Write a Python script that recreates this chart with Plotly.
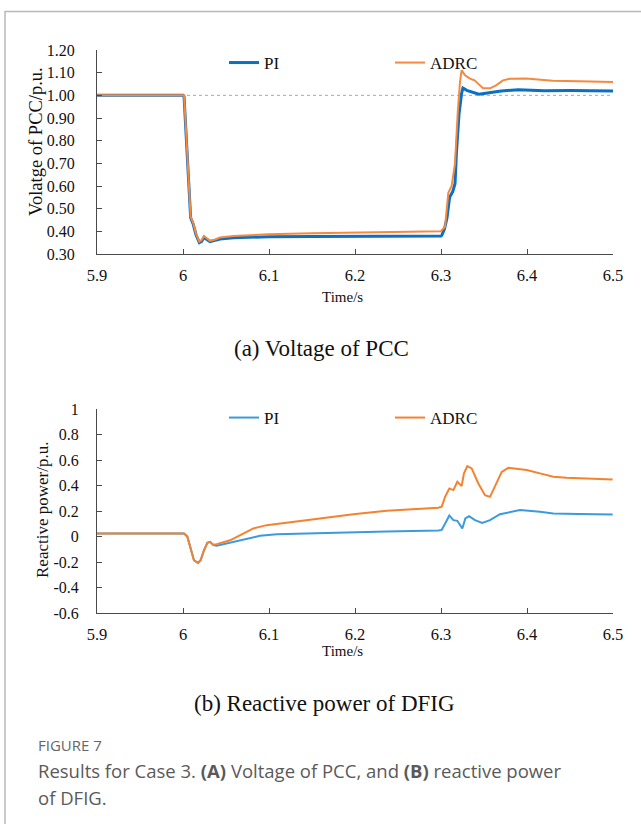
import plotly.graph_objects as go

# ---------------- data: (a) voltage of PCC ----------------
v_pi_t = [5.9, 6.0, 6.0012, 6.0035, 6.0062, 6.0089, 6.012, 6.0151, 6.019, 6.0217, 6.0244, 6.0275,
          6.0314, 6.0372, 6.043, 6.0585, 6.08, 6.1, 6.15, 6.2, 6.25, 6.3, 6.301, 6.304, 6.307,
          6.310, 6.3136, 6.3163, 6.318, 6.321, 6.324, 6.3255, 6.33, 6.337, 6.344, 6.354, 6.37,
          6.39, 6.40, 6.42, 6.45, 6.5]
v_pi = [1.0, 1.0, 0.995, 0.84, 0.62, 0.46, 0.43, 0.385, 0.35, 0.356, 0.373, 0.364,
        0.355, 0.36, 0.366, 0.372, 0.375, 0.376, 0.377, 0.378, 0.378, 0.379, 0.383, 0.41, 0.46,
        0.55, 0.575, 0.61, 0.75, 0.92, 1.01, 1.032, 1.022, 1.015, 1.005, 1.010, 1.019,
        1.025, 1.024, 1.020, 1.021, 1.019]

v_adrc_t = [5.9, 6.0, 6.0012, 6.0035, 6.0062, 6.0089, 6.012, 6.0151, 6.019, 6.0217, 6.0244, 6.0275,
            6.0314, 6.0372, 6.043, 6.0585, 6.0818, 6.0992, 6.15, 6.2, 6.25, 6.2996, 6.3047, 6.3085,
            6.3124, 6.3163, 6.3194, 6.3221, 6.324, 6.328, 6.3337, 6.339, 6.345, 6.349, 6.357,
            6.364, 6.372, 6.380, 6.399, 6.415, 6.43, 6.46, 6.5]
v_adrc = [1.0, 1.0, 1.0, 0.846, 0.626, 0.464, 0.435, 0.39, 0.354, 0.361, 0.379, 0.369,
          0.358, 0.364, 0.373, 0.379, 0.385, 0.387, 0.391, 0.395, 0.398, 0.40, 0.42, 0.57,
          0.60, 0.70, 0.92, 1.06, 1.11, 1.088, 1.074, 1.066, 1.045, 1.031, 1.031,
          1.044, 1.066, 1.073, 1.074, 1.069, 1.064, 1.062, 1.059]

# ---------------- data: (b) reactive power of DFIG ----------------
q_pi_t = [5.9, 6.0, 6.0012, 6.005, 6.009, 6.0127, 6.0174, 6.0205, 6.0244, 6.0283, 6.0314, 6.0353,
          6.0392, 6.0547, 6.070, 6.0895, 6.109, 6.1593, 6.198, 6.2368, 6.2969, 6.3008, 6.3047,
          6.3097, 6.3144, 6.319, 6.3248, 6.3283, 6.3326, 6.3395, 6.348, 6.357, 6.3686, 6.3919,
          6.4151, 6.4306, 6.46, 6.4996]
q_pi = [0.023, 0.023, 0.024, 0.0, -0.108, -0.186, -0.207, -0.186, -0.108, -0.05, -0.042, -0.068,
        -0.072, -0.05, -0.024, 0.005, 0.018, 0.028, 0.035, 0.040, 0.048, 0.052, 0.10,
        0.165, 0.128, 0.123, 0.063, 0.141, 0.159, 0.128, 0.107, 0.128, 0.175, 0.207,
        0.194, 0.181, 0.176, 0.173]

q_adrc_t = [5.9, 6.0, 6.0012, 6.005, 6.009, 6.0127, 6.0174, 6.0205, 6.0244, 6.0283, 6.0314, 6.0353,
            6.0392, 6.0547, 6.070, 6.0818, 6.0973, 6.1206, 6.1593, 6.198, 6.2368, 6.2969, 6.3008,
            6.3047, 6.3097, 6.3144, 6.319, 6.324, 6.3267, 6.3306, 6.3357, 6.3434, 6.3512, 6.357,
            6.3628, 6.3706, 6.3783, 6.3996, 6.4151, 6.4306, 6.446, 6.4996]
q_adrc = [0.023, 0.023, 0.024, 0.0, -0.108, -0.186, -0.207, -0.186, -0.108, -0.05, -0.042, -0.065,
          -0.06, -0.03, 0.023, 0.063, 0.089, 0.107, 0.141, 0.175, 0.201, 0.225, 0.233,
          0.311, 0.377, 0.364, 0.429, 0.395, 0.495, 0.552, 0.534, 0.416, 0.324, 0.311,
          0.39, 0.507, 0.539, 0.521, 0.495, 0.468, 0.46, 0.448]

x_ticks = [5.9, 6.0, 6.1, 6.2, 6.3, 6.4, 6.5]
x_tick_labels = ["5.9", "6", "6.1", "6.2", "6.3", "6.4", "6.5"]
y1_ticks = [0.3, 0.4, 0.5, 0.6, 0.7, 0.8, 0.9, 1.0, 1.1, 1.2]
y1_tick_labels = ["0.30", "0.40", "0.50", "0.60", "0.70", "0.80", "0.90", "1.00", "1.10", "1.20"]
y2_ticks = [-0.6, -0.4, -0.2, 0, 0.2, 0.4, 0.6, 0.8, 1.0]
y2_tick_labels = ["-0.6", "-0.4", "-0.2", "0", "0.2", "0.4", "0.6", "0.8", "1"]

W, H = 641, 824
SERIF = "Liberation Serif"
SANS = "Open Sans"
AX = "#4a4a4a"
TXT = "#111111"

def px_x(p):
    return p / W

def px_y(p):
    return 1 - p / H

fig = go.Figure()
fig.add_trace(go.Scatter(x=v_pi_t, y=v_pi, mode="lines", name="PI",
                         line=dict(color="#0A70C4", width=3), xaxis="x", yaxis="y", legend="legend"))
fig.add_trace(go.Scatter(x=v_adrc_t, y=v_adrc, mode="lines", name="ADRC",
                         line=dict(color="#F5893E", width=2), xaxis="x", yaxis="y", legend="legend2"))
fig.add_trace(go.Scatter(x=q_pi_t, y=q_pi, mode="lines", name="PI",
                         line=dict(color="#3A9BDC", width=2), xaxis="x2", yaxis="y2", legend="legend3"))
fig.add_trace(go.Scatter(x=q_adrc_t, y=q_adrc, mode="lines", name="ADRC",
                         line=dict(color="#F4822F", width=2), xaxis="x2", yaxis="y2", legend="legend4"))

xdom = [px_x(97), px_x(613)]
common_x = dict(range=[5.9, 6.5], tickvals=x_ticks, ticktext=x_tick_labels, showline=True,
                linecolor=AX, linewidth=1, ticks="inside", ticklen=5, tickcolor=AX,
                showgrid=False, zeroline=False, tickfont=dict(family=SERIF, size=16.5, color=TXT),
                ticklabelstandoff=6, domain=xdom, automargin=False)
common_y = dict(showline=True, linecolor=AX, linewidth=1, ticks="inside", ticklen=5,
                tickcolor=AX, showgrid=False, zeroline=False, automargin=False,
                tickfont=dict(family=SERIF, size=16, color=TXT))

fig.update_layout(
    width=W, height=H, margin=dict(l=0, r=0, t=0, b=0, autoexpand=False),
    paper_bgcolor="white", plot_bgcolor="white",
    xaxis=dict(**common_x, anchor="y"),
    yaxis=dict(**common_y, range=[0.3, 1.2], tickvals=y1_ticks, ticktext=y1_tick_labels,
               domain=[px_y(254), px_y(50)], anchor="x", ticklabelstandoff=18),
    xaxis2=dict(**common_x, anchor="y2"),
    yaxis2=dict(**common_y, range=[-0.6, 1.0], tickvals=y2_ticks, ticktext=y2_tick_labels,
                domain=[px_y(613), px_y(409)], anchor="x2", ticklabelstandoff=14),
    showlegend=True,
)

leg_common = dict(bgcolor="rgba(0,0,0,0)", font=dict(family=SERIF, size=17, color=TXT),
                  xanchor="left", yanchor="middle", itemwidth=30)
fig.update_layout(
    legend=dict(**leg_common, x=px_x(224), y=px_y(63)),
    legend2=dict(**leg_common, x=px_x(390), y=px_y(63)),
    legend3=dict(**leg_common, x=px_x(224), y=px_y(418)),
    legend4=dict(**leg_common, x=px_x(390), y=px_y(418)),
)

# reference line at 1.00 p.u.
fig.add_shape(type="line", xref="x", yref="y", x0=5.9, x1=6.5, y0=1.0, y1=1.0,
              line=dict(color="#a8a8a8", width=1, dash="dot"), layer="below")

# card border (left and top edges of a frame; other edges lie off the page)
fig.add_shape(type="rect", xref="paper", yref="paper", x0=px_x(5), x1=1.3, y0=-0.3, y1=px_y(11.5),
              line=dict(color="#b8b8b8", width=1.5), fillcolor="rgba(0,0,0,0)", layer="above")

def note(text, x, y, size, family=SERIF, color=TXT, xanchor="center", angle=0):
    fig.add_annotation(text=text, xref="paper", yref="paper", x=px_x(x), y=px_y(y),
                       showarrow=False, font=dict(family=family, size=size, color=color),
                       xanchor=xanchor, yanchor="middle", textangle=angle)

# axis titles
note("Volatge of PCC/p.u.", 36, 142, 18.5, angle=-90)
note("Time/s", 342, 297, 15)
note("Reactive power/p.u.", 43, 510, 17, angle=-90)
note("Time/s", 342, 651, 15)

# subplot captions
note("(a) Voltage of PCC", 322, 348, 23)
note("(b) Reactive power of DFIG", 325, 703, 23)

# figure caption
note("FIGURE 7", 36, 745, 15, family=SANS, color="#666666", xanchor="left")
note("Results for Case 3. <b>(A)</b> Voltage of PCC, and <b>(B)</b> reactive power",
     36, 770, 18.5, family=SANS, color="#5a5a5a", xanchor="left")
note("of DFIG.", 36, 797, 18.5, family=SANS, color="#5a5a5a", xanchor="left")

fig.write_html("out.html", config={"displayModeBar": False},
               post_script="document.body.style.margin='0';document.body.style.overflow='hidden';")
